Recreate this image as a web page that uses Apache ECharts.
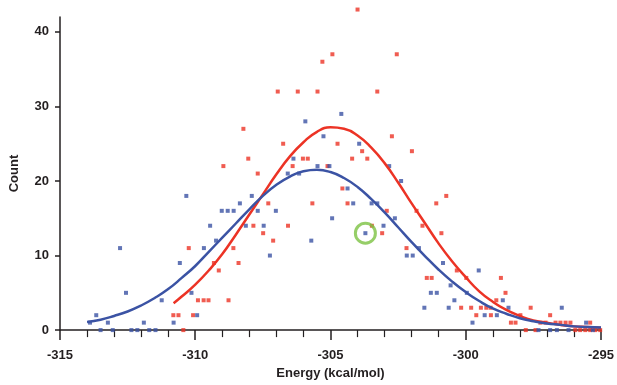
<!DOCTYPE html>
<html>
<head>
<meta charset="utf-8">
<script src="https://cdn.jsdelivr.net/npm/echarts@6/dist/echarts.min.js"></script>
<style>
  html, body { margin: 0; padding: 0; background: #fff; }
  #chart { width: 617px; height: 385px; }
</style>
</head>
<body>
<div id="chart"></div>
<script>
// scatter counts, [energy, count]
var redPoints = [
  [-310.24, 11], [-309.9, 4], [-310.81, 2], [-310.62, 2], [-310.08, 2], [-310.44, 0],
  [-308.22, 27], [-306.75, 25], [-308.04, 23], [-308.96, 22], [-307.69, 21], [-306.4, 22],
  [-307.3, 17], [-307.85, 14], [-306.57, 14], [-307.49, 13], [-307.12, 12], [-308.59, 11],
  [-309.31, 9], [-308.4, 9], [-309.13, 8], [-309.69, 4], [-309.51, 4], [-308.77, 4],
  [-304.0, 43], [-304.93, 37], [-305.3, 36], [-306.95, 32], [-306.21, 32], [-305.48, 32],
  [-303.27, 32], [-304.74, 25], [-303.83, 24], [-306.02, 23], [-305.84, 23], [-304.2, 23],
  [-303.64, 23], [-305.11, 22], [-304.56, 19], [-302.55, 37], [-302.73, 26], [-301.99, 24],
  [-300.72, 18], [-305.67, 17], [-304.37, 17], [-301.09, 17], [-302.92, 16], [-301.82, 16],
  [-303.47, 14], [-301.6, 14], [-303.09, 13], [-300.9, 13], [-302.19, 11],
  [-300.33, 8], [-298.7, 7], [-301.44, 7], [-301.26, 7], [-299.98, 7], [-298.53, 5],
  [-298.87, 4], [-300.17, 3], [-299.8, 3], [-299.44, 3], [-299.24, 3], [-299.08, 3],
  [-299.07, 2], [-299.61, 2], [-298.33, 1], [-298.16, 1], [-297.98, 2], [-297.78, 0],
  [-297.6, 3], [-296.88, 2], [-297.24, 1], [-297.05, 1], [-296.68, 1], [-296.5, 1],
  [-296.31, 1], [-296.13, 1], [-295.4, 1], [-297.42, 0], [-295.95, 0], [-295.77, 0],
  [-295.58, 0], [-295.4, 0], [-295.21, 0], [-295.03, 0]
];

var bluePoints = [
  [-312.78, 11], [-310.57, 9], [-312.56, 5], [-311.24, 4], [-310.14, 5], [-313.66, 2],
  [-313.89, 1], [-313.23, 1], [-309.93, 2], [-310.8, 1], [-311.9, 1], [-313.5, 0],
  [-313.05, 0], [-312.36, 0], [-312.14, 0], [-311.7, 0], [-311.47, 0],
  [-306.37, 23], [-306.58, 21], [-310.33, 18], [-307.91, 18], [-309.02, 16], [-308.8, 16],
  [-308.58, 16], [-308.35, 17], [-307.69, 16], [-307.02, 16], [-309.45, 14], [-308.13, 14],
  [-307.47, 14], [-309.23, 12], [-309.68, 11], [-307.24, 10],
  [-304.6, 29], [-305.93, 28], [-305.26, 26], [-303.94, 25], [-305.48, 22], [-305.04, 22],
  [-306.16, 21], [-304.37, 19], [-302.83, 22], [-302.39, 20], [-304.16, 17], [-303.48, 17],
  [-303.27, 17], [-304.94, 15], [-302.62, 15], [-303.04, 14], [-303.71, 13], [-305.71, 12],
  [-301.73, 11], [-302.18, 10], [-301.96, 10], [-300.84, 9],
  [-299.52, 8], [-301.29, 5], [-301.07, 5], [-300.56, 6], [-299.96, 5], [-300.42, 4],
  [-298.63, 4], [-301.53, 3], [-300.63, 3], [-299.3, 2], [-298.85, 2], [-298.42, 3],
  [-299.75, 1], [-296.45, 3], [-295.55, 1], [-297.31, 0], [-296.88, 0], [-296.63, 0],
  [-296.2, 0], [-295.3, 0]
];

// fitted curves
var redFit = [
  [-310.8, 3.6], [-310.5, 4.5], [-310, 6.1], [-309.5, 8.0], [-309, 10.2], [-308.5, 12.8],
  [-308, 15.5], [-307.5, 18.2], [-307, 20.9], [-306.5, 23.3], [-306, 25.2], [-305.5, 26.6],
  [-305, 27.2], [-304.5, 27.0], [-304, 26.1], [-303.5, 24.5], [-303, 22.4], [-302.5, 19.8],
  [-302, 17.0], [-301.5, 14.3], [-301, 11.6], [-300.5, 9.2], [-300, 7.1], [-299.5, 5.2],
  [-299, 3.8], [-298.5, 2.7], [-298, 1.9], [-297.5, 1.3], [-297, 1.0], [-296.5, 0.7],
  [-296, 0.5], [-295.5, 0.4], [-295, 0.3]
];

var blueFit = [
  [-314, 1.1], [-313.5, 1.4], [-313, 1.9], [-312.5, 2.5], [-312, 3.3], [-311.5, 4.3],
  [-311, 5.5], [-310.5, 7.0], [-310, 8.6], [-309.5, 10.5], [-309, 12.4], [-308.5, 14.3],
  [-308, 16.2], [-307.5, 18.0], [-307, 19.5], [-306.5, 20.6], [-306, 21.3], [-305.5, 21.5],
  [-305, 21.2], [-304.5, 20.4], [-304, 19.2], [-303.5, 17.6], [-303, 15.8], [-302.5, 13.8],
  [-302, 11.8], [-301.5, 9.9], [-301, 8.1], [-300.5, 6.5], [-300, 5.1], [-299.5, 3.9],
  [-299, 2.9], [-298.5, 2.2], [-298, 1.6], [-297.5, 1.2], [-297, 0.9], [-296.5, 0.7],
  [-296, 0.5], [-295.5, 0.4], [-295, 0.35]
];

var highlight = [[-303.71, 13]];

var xTicks = [-315, -310, -305, -300, -295];
var yTicks = [0, 10, 20, 30, 40];

var RED = '#ec3325';
var BLUE = '#3b53a4';
var GREEN = '#7cc242';
var FONT = 'Liberation Sans';

var chart = echarts.init(document.getElementById('chart'), null, { renderer: 'canvas' });

var option = {
  backgroundColor: '#fff',
  animation: false,
  grid: { left: 60, right: 14, top: 17, bottom: 52 },
  xAxis: {
    type: 'value',
    min: xTicks[0],
    max: xTicks[xTicks.length - 1],
    interval: 5,
    name: 'Energy (kcal/mol)',
    nameLocation: 'middle',
    nameGap: 36,
    nameTextStyle: { fontFamily: FONT, fontWeight: 'bold', fontSize: 13, color: '#231f20' },
    axisLine: { lineStyle: { color: '#231f20', width: 1.5 } },
    axisTick: { show: true, length: 10, lineStyle: { color: '#231f20', width: 1.5 } },
    minorTick: { show: true, splitNumber: 5, length: 7, lineStyle: { color: '#231f20', width: 1.2 } },
    axisLabel: { margin: 19, fontFamily: FONT, fontWeight: 'bold', fontSize: 13, color: '#231f20' },
    splitLine: { show: false }
  },
  yAxis: {
    type: 'value',
    min: 0,
    max: 42,
    name: 'Count',
    nameLocation: 'middle',
    nameGap: 39,
    nameRotate: 90,
    nameTextStyle: { fontFamily: FONT, fontWeight: 'bold', fontSize: 13, color: '#231f20' },
    axisLine: { show: true, lineStyle: { color: '#231f20', width: 1.5 } },
    axisTick: { show: true, length: 5, customValues: yTicks, lineStyle: { color: '#231f20', width: 1.5 } },
    axisLabel: { margin: 11, customValues: yTicks, fontFamily: FONT, fontWeight: 'bold', fontSize: 13, color: '#231f20' },
    splitLine: { show: false }
  },
  series: [
    {
      type: 'scatter',
      data: redPoints,
      symbol: 'rect',
      symbolSize: 4,
      clip: false,
      itemStyle: { color: RED }
    },
    {
      type: 'scatter',
      data: bluePoints,
      symbol: 'rect',
      symbolSize: 4,
      clip: false,
      itemStyle: { color: BLUE }
    },
    {
      type: 'line',
      data: redFit,
      smooth: true,
      showSymbol: false,
      lineStyle: { color: RED, width: 2.5 }
    },
    {
      type: 'line',
      data: blueFit,
      smooth: true,
      showSymbol: false,
      lineStyle: { color: BLUE, width: 2.5 }
    },
    {
      type: 'scatter',
      data: highlight,
      symbol: 'circle',
      symbolSize: 20,
      itemStyle: { color: 'rgba(0,0,0,0)', borderColor: GREEN, borderWidth: 3 }
    }
  ]
};

chart.setOption(option);
</script>
</body>
</html>
